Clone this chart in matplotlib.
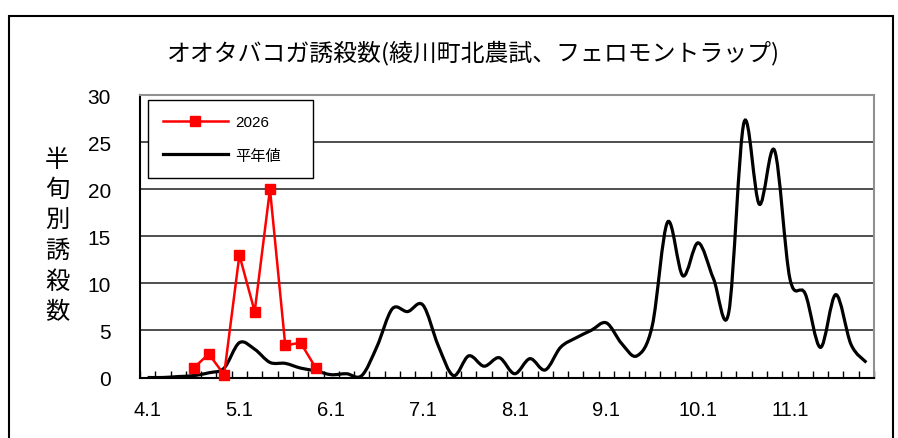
import matplotlib
matplotlib.use("Agg")
import matplotlib.pyplot as plt
import numpy as np
from matplotlib.lines import Line2D
from matplotlib.patches import PathPatch, Rectangle
from matplotlib.path import Path

plt.rcParams["font.family"] = ["Noto Sans CJK JP", "DejaVu Sans"]

# 半旬 (5-day periods), April to November: 48 periods
month_labels = ["4.1", "5.1", "6.1", "7.1", "8.1", "9.1", "10.1", "11.1"]
n_periods = 48

# 2026: only the first periods have been observed
values_2026 = [np.nan, np.nan, np.nan, 1.0, 2.5, 0.3, 13.0, 7.0, 20.0, 3.4, 3.7, 1.0] \
    + [np.nan] * (n_periods - 12)

# 平年値 (normal year)
values_normal = [
    0.0, 0.0, 0.1, 0.2, 0.5, 1.0,       # 4月
    3.7, 3.0, 1.6, 1.5, 1.0, 0.7,       # 5月
    0.3, 0.4, 0.2, 3.3, 7.3, 7.0,       # 6月
    7.7, 3.4, 0.2, 2.3, 1.2, 2.1,       # 7月
    0.4, 2.0, 0.8, 3.2, 4.2, 5.0,       # 8月
    5.8, 3.6, 2.3, 5.5, 16.5, 10.8,     # 9月
    14.3, 10.5, 6.9, 27.1, 18.4, 24.1,  # 10月
    10.5, 8.9, 3.2, 8.8, 3.5, 1.6,      # 11月
]

num_font = ["Liberation Sans", "DejaVu Sans"]


def smooth_path(xs, ys):
    """Excel風のスムージング線 (Catmull-Rom をベジェ曲線で描く)。"""
    pts = np.column_stack([xs, ys])
    n = len(pts)
    verts = [pts[0]]
    codes = [Path.MOVETO]
    for k in range(n - 1):
        p0 = pts[max(k - 1, 0)]
        p1 = pts[k]
        p2 = pts[k + 1]
        p3 = pts[min(k + 2, n - 1)]
        verts += [p1 + (p2 - p0) / 6, p2 - (p3 - p1) / 6, p2]
        codes += [Path.CURVE4] * 3
    return Path(verts, codes)


fig = plt.figure(figsize=(8.98, 4.39), dpi=100)
ax = fig.add_axes([140 / 898, 1 - 378.5 / 439, 734 / 898, 282.5 / 439])

x = np.arange(n_periods)

# gridlines
ax.set_ylim(0, 30)
ax.set_yticks(np.arange(0, 31, 5))
ax.yaxis.grid(True, color="#303030", linewidth=1.2)
ax.set_axisbelow(True)

normal_patch = PathPatch(smooth_path(x, values_normal), facecolor="none",
                         edgecolor="black", linewidth=2.3, zorder=3)
ax.add_patch(normal_patch)

line_2026, = ax.plot(x, values_2026, color="#ff0000", linewidth=1.8,
                     marker="s", markersize=6.5, zorder=4, clip_on=False)

ax.set_xlim(-0.5, n_periods - 0.5)
ax.set_xticks(np.arange(0, n_periods, 6))
ax.set_xticklabels(month_labels, family=num_font, fontsize=14.5)
ax.set_xticks(np.arange(-0.5, n_periods, 1), minor=True)
ax.tick_params(axis="x", which="major", length=0, pad=16)
ax.tick_params(axis="x", which="minor", direction="in", length=5, width=1, color="black")
ax.tick_params(axis="y", length=0, pad=21)
for lab in ax.get_yticklabels():
    lab.set_family(num_font)
    lab.set_fontsize(15)

for side in ["top", "right"]:
    ax.spines[side].set_color("#909090")
    ax.spines[side].set_linewidth(1.5)
for side in ["left", "bottom"]:
    ax.spines[side].set_color("black")
    ax.spines[side].set_linewidth(1.5)

legend = ax.legend(
    handles=[line_2026, Line2D([], [], color="black", linewidth=2.3)],
    labels=["2026", "平年値"],
    loc="upper left", bbox_to_anchor=(0.011, 0.72, 0.225, 0.262), mode="expand",
    borderaxespad=0, prop={"family": ["Liberation Sans", "Noto Sans CJK JP"], "size": 11},
    handlelength=4.2, labelspacing=1.25, borderpad=1.0, handletextpad=0.5,
    fancybox=False, edgecolor="black", framealpha=1,
)
legend.get_frame().set_linewidth(1.0)
legend.set_zorder(5)

fig.text(474 / 898, 1 - 53 / 439, "オオタバコガ誘殺数(綾川町北農試、フェロモントラップ)",
         ha="center", va="center", fontsize=17.2)
fig.text(57 / 898, 1 - 236 / 439, "\n".join("半旬別誘殺数"),
         ha="center", va="center", fontsize=17.5, linespacing=1.22)

# outer chart frame (bottom is cut off in the original)
fig.patches.append(Rectangle((9 / 898, -0.1), 884 / 898, 1.1 - 17 / 439,
                             transform=fig.transFigure, fill=False,
                             edgecolor="black", linewidth=1.5))

fig.savefig("out.png", dpi=100)
